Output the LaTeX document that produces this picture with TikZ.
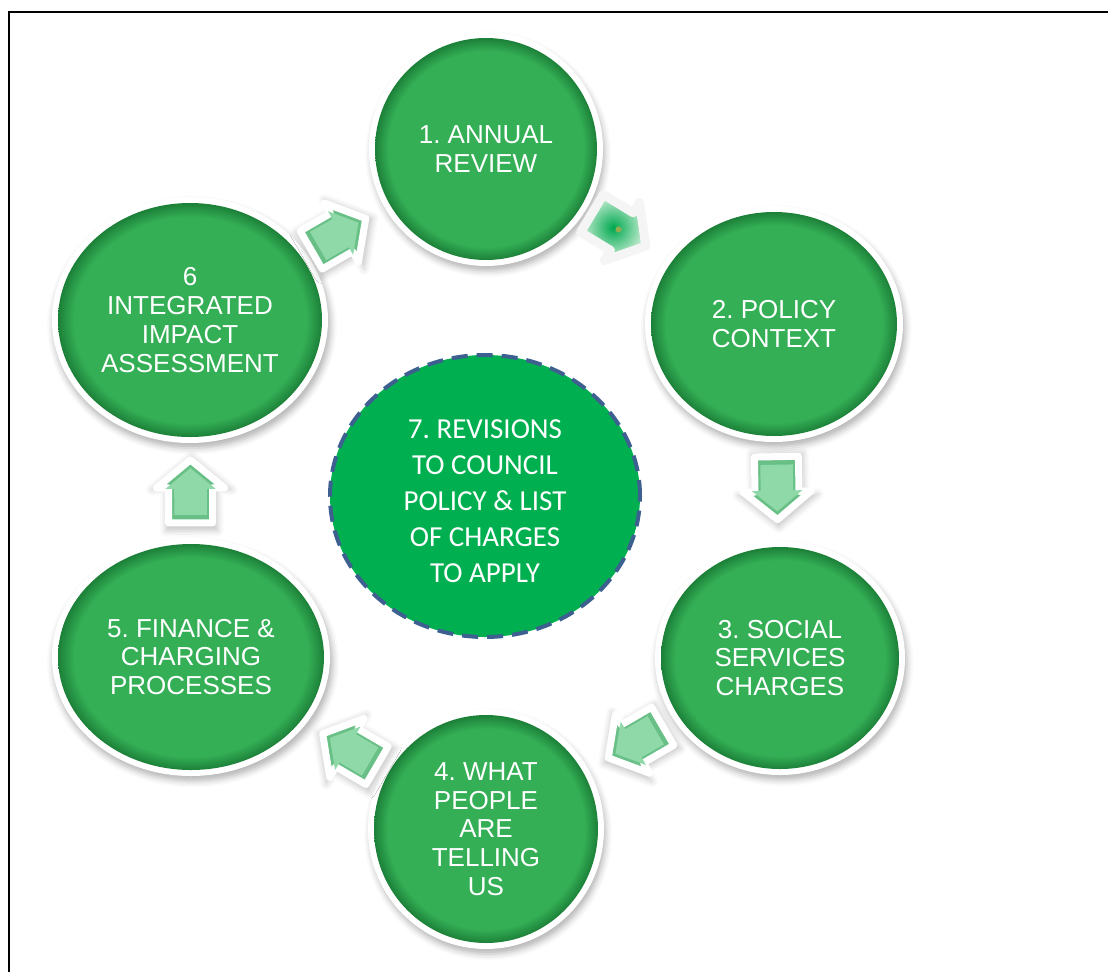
\documentclass[tikz,border=0pt]{standalone}
\usepackage{fontspec}
\setmainfont{Liberation Sans}
\newfontfamily\hubfont{Carlito}
\usetikzlibrary{shapes.geometric,shadows,shadows.blur}
\frenchspacing

\definecolor{stageGreen}{RGB}{52,175,86}
\definecolor{stageRim}{RGB}{28,128,56}
\definecolor{hubGreen}{RGB}{0,176,80}
\definecolor{hubDash}{RGB}{62,96,145}
\definecolor{arrowFace}{RGB}{143,216,168}
\definecolor{arrowRim}{RGB}{104,192,134}
\definecolor{arrowDeep}{RGB}{0,168,80}
\definecolor{arrowPale}{RGB}{205,240,215}
\definecolor{dotOlive}{RGB}{150,170,80}

\pgfdeclareradialshading{stagerim}{\pgfpoint{0bp}{0bp}}{color(0bp)=(stageGreen); color(22bp)=(stageGreen); color(25bp)=(stageRim); color(50bp)=(stageRim)}

\newcommand{\arrowShape}{(-31,-22) -- (4,-22) -- (4,-34) -- (32,0) -- (4,34) -- (4,22) -- (-31,22) -- cycle}

\begin{document}
\begin{tikzpicture}
  [x=1pt,y=-1pt,
   stage/.style={ellipse,inner sep=0pt,shade,shading=stagerim,text=white,align=center,
     font=\fontsize{26}{28.7}\selectfont,
     blur shadow={shadow xshift=2pt,shadow yshift=-5pt,shadow scale=1.05,shadow blur radius=6pt,shadow opacity=30},
     preaction={draw=white,line width=12pt}},
   hub/.style={ellipse,inner sep=0pt,fill=hubGreen,draw=hubDash,line width=4pt,
     dash pattern=on 16pt off 9pt,text=white,align=center,font=\hubfont\fontsize{29}{36}\selectfont},
   cycleArrow/.pic={
     \path[blur shadow={shadow xshift=1pt,shadow yshift=-2pt,shadow scale=1.18,shadow blur radius=5pt,shadow opacity=22},
       draw=white,line width=7pt,line join=round,fill=arrowRim] \arrowShape;
     \fill[arrowFace,scale=.74] \arrowShape;
   },
   glowArrow/.pic={
     \shadedraw[draw=black!4,line width=9pt,line join=round,inner color=arrowDeep,outer color=arrowPale] \arrowShape;
     \fill[dotOlive] (0,0) circle (3);
   }]
  \useasboundingbox (0,0) rectangle (1108,972);
  \draw[line width=2.4pt] (9,972) -- (9,12) -- (1108,12);

  \node[stage,minimum width=222pt,minimum height=222pt] (review) at (486,149) {1. ANNUAL\\REVIEW};
  \node[stage,minimum width=246pt,minimum height=224pt] (context) at (774,324) {2. POLICY\\CONTEXT};
  \node[stage,minimum width=238pt,minimum height=222pt] (charges) at (780,658) {3. SOCIAL\\SERVICES\\CHARGES};
  \node[stage,minimum width=224pt,minimum height=228pt] (feedback) at (486,829) {4. WHAT\\PEOPLE\\ARE\\TELLING\\US};
  \node[stage,minimum width=266pt,minimum height=226pt] (finance) at (191,657) {5. FINANCE \&\\CHARGING\\PROCESSES};
  \node[stage,minimum width=264pt,minimum height=234pt] (impact) at (190,320) {6\\INTEGRATED\\IMPACT\\ASSESSMENT};
  \node[hub,minimum width=310pt,minimum height=282pt,text height=173pt] (revisions) at (485,496)
    {7. REVISIONS\\TO COUNCIL\\POLICY \& LIST\\OF CHARGES\\TO APPLY};

  \foreach \from/\to/\where in {impact/review/.5,context/charges/.49,charges/feedback/.49,feedback/finance/.46,finance/impact/.49}
    \path (\from.center) -- (\to.center) pic[pos=\where,sloped,allow upside down] {cycleArrow};
  \path (review.center) -- (context.center) pic[pos=.46,sloped,allow upside down] {glowArrow};
\end{tikzpicture}
\end{document}
